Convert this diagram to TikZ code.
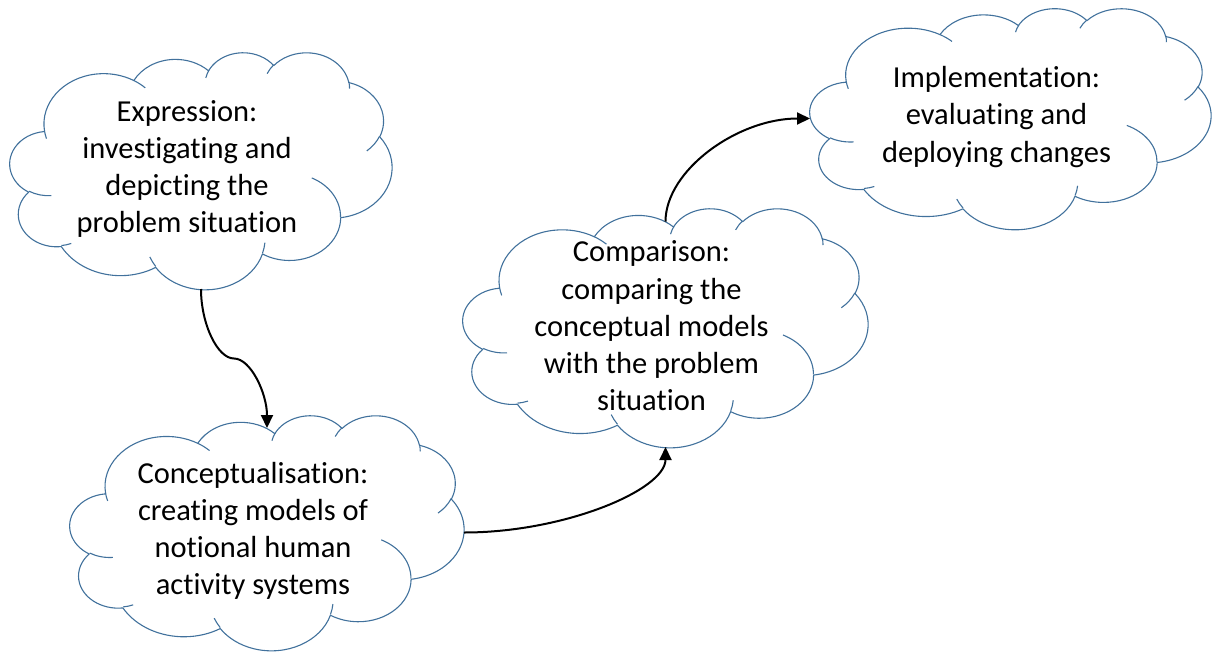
\documentclass[tikz,border=0pt]{standalone}
\usepackage{fontspec}
\setmainfont{Carlito}[Ligatures=NoCommon]
\usetikzlibrary{arrows.meta,calc}

\definecolor{cloudblue}{RGB}{65,113,156}

\tikzset{
  cloudbox/.style={rectangle, inner sep=0pt, outer sep=0pt},
  cloudline/.style={draw=cloudblue, line width=1.1pt, line join=round},
  cloudtext/.style={align=center, inner sep=0pt, font=\fontsize{30.5}{37.2}\selectfont},
  flow/.style={line width=2pt, -{Triangle[length=13pt,width=12pt]}}
}

% cloud node: name, centre, width, height, text
\newcommand{\cloudnode}[5]{%
  \node[cloudbox, minimum width=#3pt, minimum height=#4pt] (#1) at (#2) {};
  \node[cloudtext] (#1-text) at ([xshift=-14pt,yshift=1.5pt]#1.center) {#5};
  \begin{scope}[shift={(#1.south west)}, xscale=#3/432, yscale=#4/432]
    % outline
    \draw[cloudline] (39.00,288.30)
      arc (187.745:59.636:67.53 and 91.90)
      arc (152.028:45.466:53.33 and 72.67)
      arc (153.499:37.340:43.65 and 59.45)
      arc (139.701:10.212:48.57 and 65.95)
      arc (74.768:-23.212:53.33 and 72.73)
      arc (37.513:-81.862:67.75 and 92.20)
      arc (-0.460:-121.980:57.85 and 78.67)
      arc (-16.844:-146.229:67.52 and 92.15)
      arc (-58.991:-150.190:77.20 and 105.43)
      arc (276.693:136.899:43.60 and 59.18)
      arc (239.653:95.887:43.45 and 59.45) -- cycle;
    % inner arcs
    \draw[cloudline]
      (46.93,170.23) arc (-85.547:-120.347:43.45 and 59.45)
      (69.28,83.01) arc (-68.236:-83.307:43.60 and 59.18)
      (164.78,41.10) arc (-146.229:-158.473:67.52 and 92.15)
      (288.27,84.49) arc (-4.738:-16.844:67.52 and 92.15)
      (341.29,202.46) arc (64.029:-0.460:57.85 and 78.67)
      (417.98,278.46) arc (-23.212:-49.638:53.33 and 72.73)
      (383.24,377.74) arc (10.212:-0.821:48.57 and 65.95)
      (290.78,392.48) arc (156.289:139.701:48.57 and 65.95)
      (221.41,384.80) arc (167.725:153.499:43.65 and 59.45)
      (140.00,380.08) arc (59.636:45.743:67.53 and 91.90)
      (41.27,274.11) arc (-163.194:-172.255:67.53 and 91.90);
  \end{scope}}

\begin{document}
\begin{tikzpicture}[x=1pt,y=1pt]
  \useasboundingbox (0,0) rectangle (1212,-651);

  \cloudnode{exp}{201,-170.5}{382}{237}{Expression:\\investigating and\\depicting the\\problem situation}
  \cloudnode{con}{267,-532.5}{394}{235}{Conceptualisation:\\creating models of\\notional human\\activity systems}
  \cloudnode{com}{665.5,-327.5}{405}{239}{Comparison:\\comparing the\\conceptual models\\with the problem\\situation}
  \cloudnode{imp}{1010.5,-118.5}{401}{221}{Implementation:\\evaluating and\\deploying changes}

  \draw[flow] (exp.south) .. controls +(0,-35) and +(-16.5,0) .. ($(exp.south)!.5!([yshift=-13pt]con.north)$)
    .. controls +(16.5,0) and +(0,35) .. ([yshift=-13pt]con.north);
  \draw[flow] (con.east) .. controls +(100.75,0) and +(0,-42.75) .. (com.south);
  \draw[flow] ([yshift=-13.7pt]com.north) .. controls +(0,51.6) and +(-72.25,0) .. (imp.west);
\end{tikzpicture}
\end{document}
